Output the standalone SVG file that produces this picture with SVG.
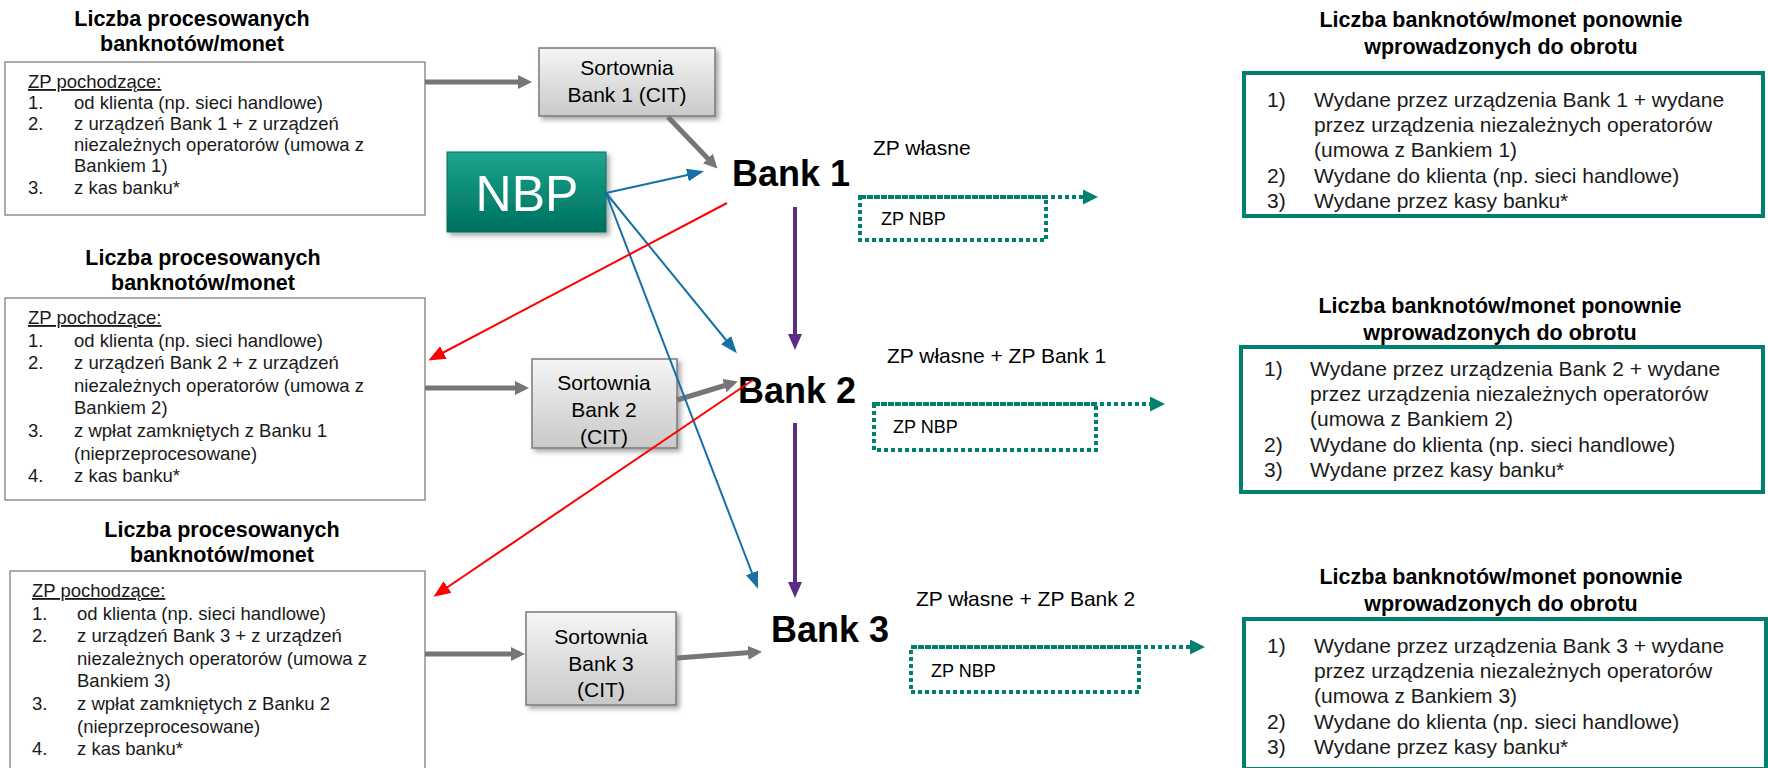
<svg xmlns="http://www.w3.org/2000/svg" width="1768" height="768" viewBox="0 0 1768 768">
<style>
text { font-family: "Liberation Sans", Arial, sans-serif; }
.title { font-size:21.5px; font-weight:bold; fill:#000; text-anchor:middle; }
.lt { font-size:18.5px; fill:#1a1a1a; }
.rt { font-size:21px; fill:#1a1a1a; }
.bank { font-size:36px; font-weight:bold; fill:#000; text-anchor:middle; }
.lbl { font-size:21px; fill:#000; }
.zp { font-size:18px; fill:#000; }
.srt { font-size:21px; fill:#000; text-anchor:middle; }
.lbox { fill:#fff; stroke:#7f7f7f; stroke-width:1.3; }
.rbox { fill:#fff; stroke:#00806e; stroke-width:4; }
.dbox { fill:none; stroke:#00806e; stroke-width:4; stroke-dasharray:4 3; }
.sbox { fill:url(#gGray); stroke:#7a7a7a; stroke-width:1.5; filter:url(#sh); }
.gray { stroke:#767676; stroke-width:5; fill:none; marker-end:url(#mGray); }
.teal { stroke:#00806e; stroke-width:5; fill:none; marker-end:url(#mTeal); filter:url(#sh2); }
.dteal { stroke:#00806e; stroke-width:4; stroke-dasharray:4 3; fill:none; marker-end:url(#mTeal2); }
.purple { stroke:#5c2d84; stroke-width:4; fill:none; marker-end:url(#mPurple); }
.red { stroke:#ff0000; stroke-width:2; fill:none; marker-end:url(#mRed); }
.blue { stroke:#1670a6; stroke-width:2; fill:none; marker-end:url(#mBlue); }
</style>
<defs>
<linearGradient id="gGray" x1="0" y1="0" x2="0" y2="1">
<stop offset="0" stop-color="#f5f5f5"/><stop offset="1" stop-color="#c9c9c9"/>
</linearGradient>
<linearGradient id="gNbp" x1="0" y1="0" x2="0" y2="1">
<stop offset="0" stop-color="#1ea58f"/><stop offset="0.5" stop-color="#0a8a76"/><stop offset="1" stop-color="#00705f"/>
</linearGradient>
<filter id="sh" x="-20%" y="-20%" width="150%" height="150%">
<feDropShadow dx="3" dy="3" stdDeviation="2.5" flood-color="#000" flood-opacity="0.35"/>
</filter>
<filter id="sh2" x="-5%" y="-100%" width="110%" height="300%">
<feDropShadow dx="2" dy="2" stdDeviation="1.5" flood-color="#000" flood-opacity="0.25"/>
</filter>
<marker id="mGray" markerUnits="userSpaceOnUse" markerWidth="16" markerHeight="16" refX="9" refY="7" orient="auto"><path d="M0,0 L14,7 L0,14 z" fill="#767676"/></marker>
<marker id="mTeal" markerUnits="userSpaceOnUse" markerWidth="18" markerHeight="16" refX="10" refY="7.5" orient="auto"><path d="M0,0 L16,7.5 L0,15 z" fill="#00806e"/></marker>
<marker id="mTeal2" markerUnits="userSpaceOnUse" markerWidth="18" markerHeight="16" refX="8" refY="7.5" orient="auto"><path d="M0,0 L15,7.5 L0,15 z" fill="#00806e"/></marker>
<marker id="mPurple" markerUnits="userSpaceOnUse" markerWidth="16" markerHeight="18" refX="9" refY="7" orient="auto"><path d="M0,0 L16,7 L0,14 z" fill="#5c2d84"/></marker>
<marker id="mRed" markerUnits="userSpaceOnUse" markerWidth="18" markerHeight="16" refX="14" refY="7" orient="auto"><path d="M0,0 L17,7 L0,14 z" fill="#ff0000"/></marker>
<marker id="mBlue" markerUnits="userSpaceOnUse" markerWidth="18" markerHeight="16" refX="14" refY="6.5" orient="auto"><path d="M0,0 L17,6.5 L0,13 z" fill="#1670a6"/></marker>
</defs>
<rect width="1768" height="768" fill="#fff"/>

<g id="left1">
<text class="title" x="192" y="26">Liczba procesowanych</text>
<text class="title" x="192" y="51">banknotów/monet</text>
<rect class="lbox" x="5" y="62" width="420" height="153"/>
<text class="lt" x="28" y="88" text-decoration="underline">ZP pochodzące:</text>
<text class="lt" x="28" y="109">1.</text><text class="lt" x="74" y="109">od klienta (np. sieci handlowe)</text>
<text class="lt" x="28" y="130">2.</text><text class="lt" x="74" y="130">z urządzeń Bank 1 + z urządzeń</text>
<text class="lt" x="74" y="151">niezależnych operatorów (umowa z</text>
<text class="lt" x="74" y="172">Bankiem 1)</text>
<text class="lt" x="28" y="194">3.</text><text class="lt" x="74" y="194">z kas banku*</text>
</g>

<g id="left2">
<text class="title" x="203" y="265">Liczba procesowanych</text>
<text class="title" x="203" y="290">banknotów/monet</text>
<rect class="lbox" x="5" y="298" width="420" height="202"/>
<text class="lt" x="28" y="324" text-decoration="underline">ZP pochodzące:</text>
<text class="lt" x="28" y="347">1.</text><text class="lt" x="74" y="347">od klienta (np. sieci handlowe)</text>
<text class="lt" x="28" y="369">2.</text><text class="lt" x="74" y="369">z urządzeń Bank 2 + z urządzeń</text>
<text class="lt" x="74" y="392">niezależnych operatorów (umowa z</text>
<text class="lt" x="74" y="414">Bankiem 2)</text>
<text class="lt" x="28" y="437">3.</text><text class="lt" x="74" y="437">z wpłat zamkniętych z Banku 1</text>
<text class="lt" x="74" y="460">(nieprzeprocesowane)</text>
<text class="lt" x="28" y="482">4.</text><text class="lt" x="74" y="482">z kas banku*</text>
</g>

<g id="left3">
<text class="title" x="222" y="537">Liczba procesowanych</text>
<text class="title" x="222" y="562">banknotów/monet</text>
<rect class="lbox" x="10" y="571" width="415" height="210"/>
<text class="lt" x="32" y="597" text-decoration="underline">ZP pochodzące:</text>
<text class="lt" x="32" y="620">1.</text><text class="lt" x="77" y="620">od klienta (np. sieci handlowe)</text>
<text class="lt" x="32" y="642">2.</text><text class="lt" x="77" y="642">z urządzeń Bank 3 + z urządzeń</text>
<text class="lt" x="77" y="665">niezależnych operatorów (umowa z</text>
<text class="lt" x="77" y="687">Bankiem 3)</text>
<text class="lt" x="32" y="710">3.</text><text class="lt" x="77" y="710">z wpłat zamkniętych z Banku 2</text>
<text class="lt" x="77" y="733">(nieprzeprocesowane)</text>
<text class="lt" x="32" y="755">4.</text><text class="lt" x="77" y="755">z kas banku*</text>
</g>

<g id="sort1">
<rect class="sbox" x="539" y="48" width="176" height="68"/>
<text class="srt" x="627" y="75">Sortownia</text>
<text class="srt" x="627" y="102">Bank 1 (CIT)</text>
</g>
<g id="sort2">
<rect class="sbox" x="532" y="359" width="145" height="89"/>
<text class="srt" x="604" y="390">Sortownia</text>
<text class="srt" x="604" y="417">Bank 2</text>
<text class="srt" x="604" y="444">(CIT)</text>
</g>
<g id="sort3">
<rect class="sbox" x="526" y="612" width="150" height="93"/>
<text class="srt" x="601" y="644">Sortownia</text>
<text class="srt" x="601" y="671">Bank 3</text>
<text class="srt" x="601" y="697">(CIT)</text>
</g>

<g id="nbp">
<rect x="447" y="152" width="159" height="80" fill="url(#gNbp)" stroke="#0b6f60" stroke-width="1" filter="url(#sh)"/>
<text x="527" y="211" font-size="50" fill="#fff" text-anchor="middle">NBP</text>
</g>

<g id="bank1"><text class="bank" x="791" y="186">Bank 1</text></g>
<g id="bank2"><text class="bank" x="797" y="403">Bank 2</text></g>
<g id="bank3"><text class="bank" x="830" y="642">Bank 3</text></g>

<g id="zpnbp1">
<rect class="dbox" x="860" y="197" width="186" height="43"/>
<text class="zp" x="881" y="225">ZP NBP</text>
</g>
<g id="zpnbp2">
<rect class="dbox" x="874" y="404" width="222" height="46"/>
<text class="zp" x="893" y="433">ZP NBP</text>
</g>
<g id="zpnbp3">
<rect class="dbox" x="911" y="647" width="228" height="45"/>
<text class="zp" x="931" y="677">ZP NBP</text>
</g>

<g id="right1">
<text class="title" x="1501" y="27">Liczba banknotów/monet ponownie</text>
<text class="title" x="1501" y="54">wprowadzonych do obrotu</text>
<rect class="rbox" x="1244" y="73" width="519" height="143"/>
<text class="rt" x="1267" y="107">1)</text><text class="rt" x="1314" y="107">Wydane przez urządzenia Bank 1 + wydane</text>
<text class="rt" x="1314" y="132">przez urządzenia niezależnych operatorów</text>
<text class="rt" x="1314" y="157">(umowa z Bankiem 1)</text>
<text class="rt" x="1267" y="183">2)</text><text class="rt" x="1314" y="183">Wydane do klienta (np. sieci handlowe)</text>
<text class="rt" x="1267" y="208">3)</text><text class="rt" x="1314" y="208">Wydane przez kasy banku*</text>
</g>
<g id="right2">
<text class="title" x="1500" y="313">Liczba banknotów/monet ponownie</text>
<text class="title" x="1500" y="340">wprowadzonych do obrotu</text>
<rect class="rbox" x="1241" y="347" width="522" height="145"/>
<text class="rt" x="1264" y="376">1)</text><text class="rt" x="1310" y="376">Wydane przez urządzenia Bank 2 + wydane</text>
<text class="rt" x="1310" y="401">przez urządzenia niezależnych operatorów</text>
<text class="rt" x="1310" y="426">(umowa z Bankiem 2)</text>
<text class="rt" x="1264" y="452">2)</text><text class="rt" x="1310" y="452">Wydane do klienta (np. sieci handlowe)</text>
<text class="rt" x="1264" y="477">3)</text><text class="rt" x="1310" y="477">Wydane przez kasy banku*</text>
</g>
<g id="right3">
<text class="title" x="1501" y="584">Liczba banknotów/monet ponownie</text>
<text class="title" x="1501" y="611">wprowadzonych do obrotu</text>
<rect class="rbox" x="1244" y="619" width="522" height="150"/>
<text class="rt" x="1267" y="653">1)</text><text class="rt" x="1314" y="653">Wydane przez urządzenia Bank 3 + wydane</text>
<text class="rt" x="1314" y="678">przez urządzenia niezależnych operatorów</text>
<text class="rt" x="1314" y="703">(umowa z Bankiem 3)</text>
<text class="rt" x="1267" y="729">2)</text><text class="rt" x="1314" y="729">Wydane do klienta (np. sieci handlowe)</text>
<text class="rt" x="1267" y="754">3)</text><text class="rt" x="1314" y="754">Wydane przez kasy banku*</text>
</g>

<g id="connectors">
<line class="gray" x1="425" y1="82" x2="527" y2="82"/>
<line class="gray" x1="668" y1="117" x2="714" y2="165"/>
<line class="gray" x1="425" y1="388" x2="524" y2="388"/>
<line class="gray" x1="677" y1="400" x2="733" y2="383"/>
<line class="gray" x1="425" y1="654" x2="520" y2="654"/>
<line class="gray" x1="677" y1="658" x2="757" y2="652"/>

<line class="blue" x1="606" y1="193" x2="701" y2="172"/>
<line class="blue" x1="606" y1="193" x2="735" y2="351"/>
<line class="blue" x1="606" y1="193" x2="757" y2="586"/>

<line class="red" x1="727" y1="203" x2="431" y2="359"/>
<line class="red" x1="753" y1="380" x2="436" y2="595"/>

<line class="purple" x1="795" y1="207" x2="795" y2="343"/>
<line class="purple" x1="795" y1="423" x2="795" y2="591"/>

<line class="teal" x1="856" y1="173" x2="1230" y2="173"/>
<line class="teal" x1="870" y1="386" x2="1224" y2="386"/>
<line class="teal" x1="905" y1="627" x2="1230" y2="627"/>

<line class="dteal" x1="862" y1="197" x2="1091" y2="197"/>
<line class="dteal" x1="876" y1="404" x2="1158" y2="404"/>
<line class="dteal" x1="913" y1="647" x2="1198" y2="647"/>

<text class="lbl" x="873" y="155">ZP własne</text>
<text class="lbl" x="887" y="363">ZP własne + ZP Bank 1</text>
<text class="lbl" x="916" y="606">ZP własne + ZP Bank 2</text>
</g>
</svg>
